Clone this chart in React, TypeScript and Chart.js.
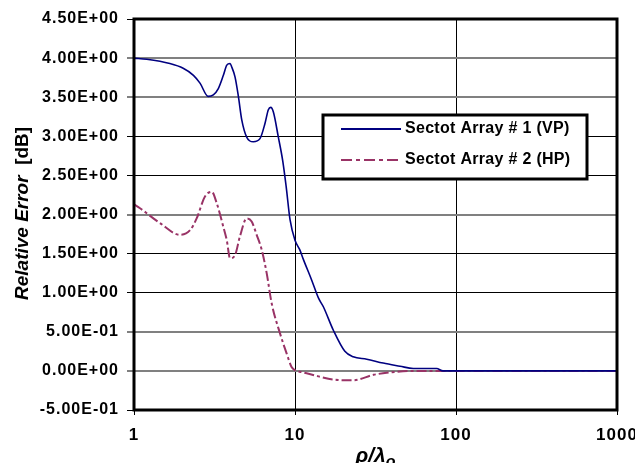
import React, { useEffect, useRef } from 'react';
import { Chart, registerables } from 'chart.js';

Chart.register(...registerables);

// ---- data ----
const xTickValues = [1, 10, 100, 1000];
const yMin = -0.5;
const yMax = 4.5;
const yStep = 0.5;
const grayGridValues = [4.0, 3.5, 2.0, 0.5, 0.0];

const series1Label = 'Sectot Array # 1 (VP)';
const series1X = [1, 1.2, 1.67, 2.02, 2.34, 2.57, 2.89, 3.11, 3.34, 3.59, 3.77, 3.95, 4.04, 4.24, 4.45, 4.67, 5.01, 5.51, 6.06, 6.52, 6.83, 7.07, 7.34, 7.88, 8.4, 8.81, 9.32, 10,
  10.7, 11.3, 12.7, 14, 15, 17.3, 20.4, 23, 27.9, 35.3, 44.9, 54.3, 75.8, 83, 100, 1000];
const series1Y = [4.0, 3.985, 3.93, 3.87, 3.78, 3.68, 3.51, 3.53, 3.61, 3.78, 3.91, 3.93, 3.89, 3.76, 3.51, 3.21, 2.99, 2.93, 2.97, 3.17, 3.34, 3.37, 3.31, 2.99, 2.68, 2.36, 1.93, 1.67,
  1.55, 1.42, 1.16, 0.93, 0.82, 0.52, 0.25, 0.18, 0.15, 0.10, 0.06, 0.03, 0.03, 0.0, 0.0, 0.0];

const series2Label = 'Sectot Array # 2 (HP)';
const series2X = [1, 1.09, 1.45, 1.93, 2.23, 2.45, 2.76, 3.04, 3.27, 3.59, 3.77, 3.95, 4.24, 4.55, 5.01, 5.38, 5.78, 6.21, 6.67, 7.17,
  8.07, 8.88, 9.52, 10, 11.3, 14, 17.3, 23, 30.7, 38.9, 51.8, 100, 1000];
const series2Y = [2.13, 2.08, 1.89, 1.74, 1.80, 1.95, 2.23, 2.29, 2.14, 1.84, 1.67, 1.44, 1.48, 1.72, 1.95, 1.91, 1.74, 1.55, 1.25, 0.86,
  0.48, 0.22, 0.05, 0.01, -0.02, -0.07, -0.11, -0.12, -0.05, -0.02, 0.0, 0.0, 0.0];

const yTitleItalic = 'Relative Error';
const yTitleRest = '  [dB]';
const xTitleMain = 'ρ/λ';
const xTitleSub = 'o';

const color1 = '#000080';
const color2 = '#993366';
const dash2 = [11, 4, 4, 4];
const FONT = "'Liberation Sans', Arial, sans-serif";

function sci(v: number): string {
  const r = Math.round(v * 1000) / 1000;
  const s = r.toExponential(2);
  const [m, e] = s.split('e');
  const sign = e[0];
  const digits = e.slice(1).padStart(2, '0');
  return `${m}E${sign}${digits}`;
}

const spacingPlugin = {
  id: 'spacing',
  beforeDraw(chart: any) {
    (chart.ctx as any).letterSpacing = '1px';
  },
  afterDraw(chart: any) {
    (chart.ctx as any).letterSpacing = '0px';
  },
};

const decorPlugin = {
  id: 'decor',
  afterDraw(chart: any) {
    const { ctx, chartArea } = chart;
    const { left, top, right, bottom } = chartArea;
    ctx.save();
    (ctx as any).letterSpacing = '0px';
    // frame
    ctx.strokeStyle = '#000';
    ctx.lineWidth = 3;
    ctx.setLineDash([]);
    ctx.strokeRect(left, top, right - left, bottom - top);

    // y title
    ctx.save();
    ctx.translate(28, 300);
    ctx.rotate(-Math.PI / 2);
    ctx.fillStyle = '#000';
    ctx.textAlign = 'left';
    ctx.textBaseline = 'alphabetic';
    ctx.font = `italic bold 19px ${FONT}`;
    ctx.fillText(yTitleItalic, 0, 0);
    const w = ctx.measureText(yTitleItalic).width;
    ctx.font = `bold 19px ${FONT}`;
    ctx.fillText(yTitleRest, w, 0);
    ctx.restore();

    // x title
    ctx.fillStyle = '#000';
    ctx.textAlign = 'left';
    ctx.textBaseline = 'alphabetic';
    ctx.font = `italic bold 21px ${FONT}`;
    const cx = (left + right) / 2;
    const mw = ctx.measureText(xTitleMain).width;
    ctx.font = `italic bold 16px ${FONT}`;
    const sw = ctx.measureText(xTitleSub).width;
    const sx = cx - (mw + sw) / 2;
    ctx.font = `italic bold 21px ${FONT}`;
    ctx.fillText(xTitleMain, sx, 462);
    ctx.font = `italic bold 16px ${FONT}`;
    ctx.fillText(xTitleSub, sx + mw, 467);

    // legend
    const lx = 323, ly = 115, lw = 264, lh = 64;
    ctx.fillStyle = '#fff';
    ctx.fillRect(lx, ly, lw, lh);
    ctx.lineWidth = 3;
    ctx.strokeStyle = '#000';
    ctx.strokeRect(lx, ly, lw, lh);
    const items = [
      { label: series1Label, color: color1, dash: [] as number[], y: 129, width: 1.8 },
      { label: series2Label, color: color2, dash: dash2, y: 160, width: 2.2 },
    ];
    for (const it of items) {
      ctx.beginPath();
      ctx.strokeStyle = it.color;
      ctx.lineWidth = it.width;
      ctx.setLineDash(it.dash);
      ctx.moveTo(341, it.y);
      ctx.lineTo(401, it.y);
      ctx.stroke();
      ctx.setLineDash([]);
      ctx.fillStyle = '#000';
      (ctx as any).letterSpacing = '0.3px';
      ctx.font = `bold 16px ${FONT}`;
      ctx.textBaseline = 'middle';
      ctx.fillText(it.label, 405, it.y);
      (ctx as any).letterSpacing = '0px';
    }
    ctx.restore();
  },
};

export default function App() {
  const ref = useRef<HTMLCanvasElement>(null);
  useEffect(() => {
    if (!ref.current) return;
    const chart = new Chart(ref.current, {
      type: 'line',
      data: {
        datasets: [
          {
            label: series1Label,
            data: series1X.map((x, i) => ({ x, y: series1Y[i] })),
            borderColor: color1,
            borderWidth: 1.6,
            pointRadius: 0,
            cubicInterpolationMode: 'monotone',
            fill: false,
          },
          {
            label: series2Label,
            data: series2X.map((x, i) => ({ x, y: series2Y[i] })),
            borderColor: color2,
            borderWidth: 2,
            borderDash: [10, 3, 3, 3],
            pointRadius: 0,
            cubicInterpolationMode: 'monotone',
            fill: false,
          },
        ],
      },
      options: {
        animation: false,
        responsive: false,
        devicePixelRatio: 1,
        layout: { padding: { top: 19, right: 18, bottom: 0, left: 0 } },
        plugins: { legend: { display: false }, tooltip: { enabled: false } },
        scales: {
          x: {
            type: 'logarithmic',
            min: 1,
            max: 1000,
            afterBuildTicks: (scale: any) => {
              scale.ticks = xTickValues.map((v) => ({ value: v }));
            },
            afterFit: (scale: any) => {
              scale.height = 53;
              scale.paddingLeft = 0;
              scale.paddingRight = 0;
            },
            border: { display: false },
            grid: { color: '#000', lineWidth: 1, tickLength: 5, tickColor: '#000' },
            ticks: {
              color: '#000',
              font: { family: FONT, size: 17, weight: 'bold' },
              padding: 10,
              maxRotation: 0,
              autoSkip: false,
              callback: (v: any) => String(v),
            },
          },
          y: {
            type: 'linear',
            min: yMin,
            max: yMax,
            afterFit: (scale: any) => {
              scale.width = 134;
              scale.paddingTop = 0;
              scale.paddingBottom = 0;
            },
            border: { display: false },
            grid: {
              color: (c: any) => (grayGridValues.some((g) => Math.abs(g - c.tick.value) < 1e-9) ? '#808080' : '#000'),
              lineWidth: (c: any) => (grayGridValues.some((g) => Math.abs(g - c.tick.value) < 1e-9) ? 2 : 1),
              tickLength: 7,
            },
            ticks: {
              stepSize: yStep,
              color: '#000',
              font: { family: FONT, size: 16, weight: 'bold' },
              padding: 8,
              callback: (v: any) => sci(Number(v)),
            },
          },
        },
      },
      plugins: [spacingPlugin, decorPlugin],
    } as any);
    return () => chart.destroy();
  }, []);
  return (
    <div style={{ position: 'fixed', left: 0, top: 0, width: 635, height: 463, background: '#fff' }}>
      <canvas ref={ref} width={635} height={463} style={{ display: 'block' }} />
    </div>
  );
}
